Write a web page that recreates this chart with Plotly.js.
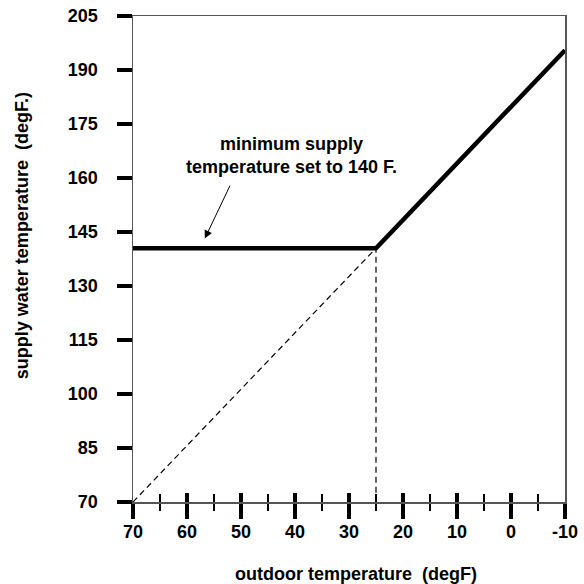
<!DOCTYPE html>
<html>
<head>
<meta charset="utf-8">
<script src="https://cdn.plot.ly/plotly-3.0.1.min.js"></script>
<style>html,body{margin:0;padding:0;background:#fff;}#chart{width:584px;height:584px;}</style>
</head>
<body>
<div id="chart"></div>
<script>
// Data
var outdoorTemp = [70, 25, -10];           // degF
var supplyTemp = [140.5, 140.5, 195.5];    // degF (minimum 140 F)
var resetTemp = [70, 25, 25];              // unclamped reset curve + drop line
var resetSupply = [70, 140.5, 70];
var xMajorTicks = [70, 60, 50, 40, 30, 20, 10, 0, -10];
var xMinorTicks = [65, 55, 45, 35, 25, 15, 5, -5];
var yTicks = [70, 85, 100, 115, 130, 145, 160, 175, 190, 205];
var xTitle = 'outdoor temperature \u00a0(degF)';
var yTitle = 'supply water temperature \u00a0(degF.)';
var noteText = 'minimum supply<br>temperature set to 140 F.';
var noteAt = {x: 40.6, y: 166.3};
var arrowHead = {x: 56.7, y: 143.2};
var arrowTail = {x: 51.9, y: 158.3};

var fam = 'Liberation Sans, Arial, Helvetica, sans-serif';
var bold = {family: fam, size: 18, color: '#000', weight: 'bold'};

var traces = [
  {x: resetTemp, y: resetSupply, mode: 'lines', type: 'scatter',
   line: {color: '#000', width: 1.2, dash: '6px,4px'}, hoverinfo: 'skip'},
  {x: outdoorTemp, y: supplyTemp, mode: 'lines', type: 'scatter',
   line: {color: '#000', width: 4.5}, hoverinfo: 'skip'},
  {x: outdoorTemp, y: supplyTemp, xaxis: 'x2', mode: 'lines', type: 'scatter',
   line: {color: 'rgba(0,0,0,0)', width: 0}, hoverinfo: 'skip'}
];

var layout = {
  width: 584, height: 584,
  margin: {l: 133, r: 19, t: 16, b: 82},
  paper_bgcolor: '#fff', plot_bgcolor: '#fff',
  showlegend: false,
  font: bold,
  xaxis: {
    range: [70, -10], tickvals: xMajorTicks, ticktext: xMajorTicks.map(String),
    ticks: 'outside', ticklen: 15, tickwidth: 4, tickcolor: '#000',
    showline: true, linecolor: '#555', linewidth: 1.5, mirror: true,
    showgrid: false, zeroline: false,
    tickfont: {family: fam, size: 18, color: '#000', weight: 'bold'},
    ticklabelstandoff: -2,
    minor: {tickvals: xMinorTicks, ticks: 'outside', ticklen: 7, tickwidth: 1.5, tickcolor: '#000', showgrid: false}
  },
  xaxis2: {
    overlaying: 'x', anchor: 'y', side: 'bottom',
    range: [70, -10], tickvals: xMajorTicks,
    ticks: 'inside', ticklen: 9, tickwidth: 4, tickcolor: '#000',
    showticklabels: false, showline: false, showgrid: false, zeroline: false,
    minor: {tickvals: xMinorTicks, ticks: 'inside', ticklen: 8, tickwidth: 1.5, tickcolor: '#000', showgrid: false}
  },
  yaxis: {
    range: [70, 205], tickvals: yTicks, ticktext: yTicks.map(String),
    ticks: 'outside', ticklen: 15, tickwidth: 4, tickcolor: '#000',
    showline: true, linecolor: '#555', linewidth: 1.5, mirror: true,
    showgrid: false, zeroline: false,
    tickfont: {family: fam, size: 18, color: '#000', weight: 'bold'},
    ticklabelstandoff: 15
  },
  annotations: [
    {x: 0.516, y: -0.148, xref: 'paper', yref: 'paper', text: xTitle, showarrow: false,
     xanchor: 'center', yanchor: 'middle',
     font: {family: fam, size: 18, color: '#000', weight: 'bold'}},
    {x: -0.257, y: 0.549, xref: 'paper', yref: 'paper', text: yTitle, showarrow: false,
     textangle: -90, xanchor: 'center', yanchor: 'middle',
     font: {family: fam, size: 18, color: '#000', weight: 'bold'}},
    {x: noteAt.x, y: noteAt.y, xref: 'x', yref: 'y', text: noteText, showarrow: false,
     font: {family: fam, size: 18, color: '#000', weight: 'bold'}, align: 'center'},
    {x: arrowHead.x, y: arrowHead.y, xref: 'x', yref: 'y', ax: arrowTail.x, ay: arrowTail.y,
     axref: 'x', ayref: 'y', text: '', showarrow: true, arrowhead: 2, arrowsize: 1.6,
     arrowwidth: 1, arrowcolor: '#000'}
  ]
};

Plotly.newPlot('chart', traces, layout, {displayModeBar: false, staticPlot: true});
</script>
</body>
</html>
